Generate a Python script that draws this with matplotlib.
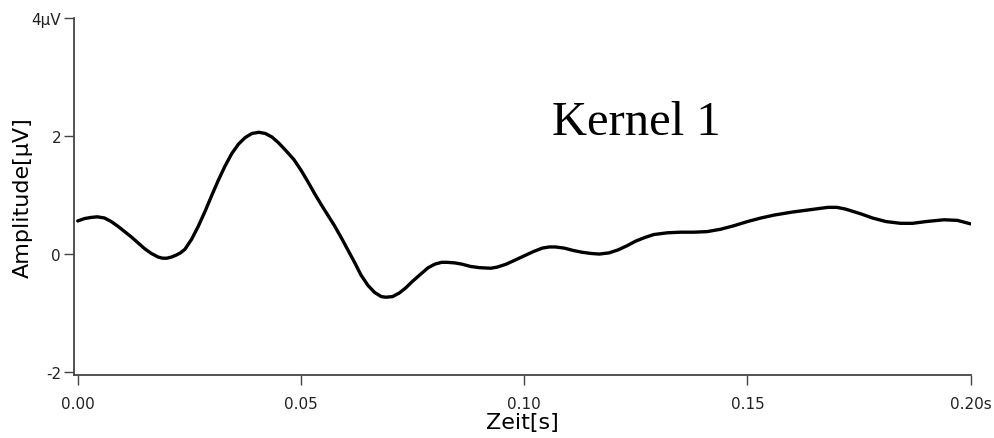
import matplotlib
matplotlib.use("Agg")
import matplotlib.pyplot as plt

# values
zeit = [0.000, 0.0015, 0.003, 0.0044, 0.006, 0.0075, 0.009, 0.0105, 0.012, 0.0135,
        0.015, 0.0165, 0.018, 0.019, 0.020, 0.021, 0.022, 0.023, 0.024, 0.0255,
        0.027, 0.0285, 0.030, 0.0315, 0.033, 0.0345, 0.036, 0.0375, 0.039, 0.0406,
        0.042, 0.0435, 0.045, 0.0465, 0.0484, 0.050, 0.0515, 0.053, 0.0545, 0.056,
        0.0575, 0.059, 0.0605, 0.062, 0.0634, 0.065, 0.0665, 0.068, 0.069, 0.0705,
        0.072, 0.0735, 0.075, 0.0768, 0.0785, 0.080, 0.0815, 0.0828, 0.0845, 0.086,
        0.088, 0.090, 0.0925, 0.094, 0.096, 0.098, 0.100, 0.102, 0.104, 0.1056,
        0.107, 0.109, 0.111, 0.113, 0.115, 0.1168, 0.119, 0.121, 0.123, 0.125,
        0.127, 0.129, 0.1321, 0.135, 0.138, 0.141, 0.144, 0.147, 0.150, 0.153,
        0.156, 0.160, 0.164, 0.168, 0.170, 0.172, 0.1754, 0.178, 0.181, 0.1843,
        0.187, 0.190, 0.194, 0.197, 0.200]
amplitude = [0.56, 0.60, 0.62, 0.63, 0.61, 0.55, 0.47, 0.38, 0.29, 0.19,
             0.09, 0.01, -0.05, -0.07, -0.07, -0.05, -0.02, 0.02, 0.08, 0.25,
             0.47, 0.72, 0.99, 1.25, 1.49, 1.70, 1.86, 1.97, 2.04, 2.06,
             2.04, 1.98, 1.88, 1.76, 1.60, 1.42, 1.23, 1.03, 0.84, 0.66,
             0.48, 0.28, 0.07, -0.14, -0.35, -0.53, -0.65, -0.72, -0.73, -0.72,
             -0.66, -0.57, -0.46, -0.34, -0.23, -0.17, -0.14, -0.14, -0.15, -0.17,
             -0.21, -0.23, -0.24, -0.22, -0.17, -0.10, -0.03, 0.04, 0.10, 0.12,
             0.12, 0.10, 0.06, 0.03, 0.01, 0.00, 0.02, 0.07, 0.14, 0.22,
             0.28, 0.33, 0.36, 0.37, 0.37, 0.38, 0.42, 0.48, 0.55, 0.61,
             0.66, 0.71, 0.75, 0.79, 0.79, 0.76, 0.68, 0.61, 0.55, 0.52,
             0.52, 0.55, 0.58, 0.57, 0.51]

xticks = [0.0, 0.05, 0.10, 0.15, 0.20]
xlabels = ["0.00", "0.05", "0.10", "0.15", "0.20s"]
yticks = [-2, 0, 2, 4]
ylabels = ["-2", "0", "2", "4\u03bcV"]

fig = plt.figure(figsize=(9.95, 4.39), dpi=100)
ax = fig.add_axes([0.0739, 0.1435, 0.9017, 0.8141])

ax.plot(zeit, amplitude, color="black", linewidth=2.4,
        solid_joinstyle="round", solid_capstyle="round")

ax.set_xlim(-0.00094, 0.2)
ax.set_ylim(-2.046, 4)
ax.set_xticks(xticks)
ax.set_xticklabels(xlabels)
ax.set_yticks(yticks)
ax.set_yticklabels(ylabels)

for s in ["top", "right"]:
    ax.spines[s].set_visible(False)
for s in ["left", "bottom"]:
    ax.spines[s].set_color("#444444")
    ax.spines[s].set_linewidth(1.3)

ax.tick_params(axis="both", direction="out", length=7, width=1, color="#444444",
               labelsize=11, labelcolor="#222222")
ax.tick_params(axis="x", pad=8)
ax.tick_params(axis="y", pad=2)

ax.set_xlabel("Zeit[s]", fontsize=16, labelpad=1)
ax.set_ylabel("Amplitude[\u03bcV]", fontsize=16, labelpad=-1)

fig.text(0.5548, 0.6925, "Kernel 1", family="Liberation Serif", fontsize=35,
         va="baseline", ha="left")

fig.savefig("out.png", dpi=100)
